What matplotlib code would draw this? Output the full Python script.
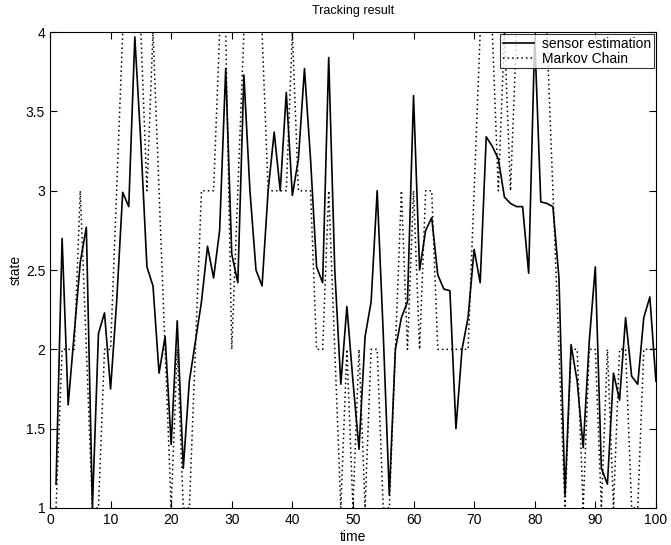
import numpy as np
import matplotlib
matplotlib.use("Agg")
import matplotlib.pyplot as plt

plt.rcParams['font.family'] = ['Liberation Sans', 'DejaVu Sans']

time = np.arange(1, 101)

sensor_estimation = [
    1.15, 2.70, 1.65, 2.10, 2.55, 2.77, 1.00, 2.10, 2.23, 1.75,
    2.30, 2.99, 2.90, 3.97, 3.30, 2.52, 2.40, 1.85, 2.08, 1.40,
    2.18, 1.25, 1.80, 2.05, 2.30, 2.65, 2.45, 2.75, 3.77, 2.60,
    2.42, 3.73, 3.00, 2.50, 2.40, 3.00, 3.37, 3.00, 3.62, 2.97,
    3.20, 3.77, 3.20, 2.52, 2.42, 3.84, 2.50, 1.78, 2.27, 1.80,
    1.37, 2.08, 2.30, 3.00, 2.10, 1.08, 2.00, 2.20, 2.30, 3.60,
    2.50, 2.75, 2.83, 2.47, 2.38, 2.37, 1.50, 2.00, 2.20, 2.63,
    2.42, 3.34, 3.28, 3.20, 2.96, 2.92, 2.90, 2.90, 2.48, 3.97,
    2.93, 2.92, 2.90, 2.45, 1.08, 2.03, 1.80, 1.38, 2.05, 2.52,
    1.25, 1.15, 1.85, 1.68, 2.20, 1.83, 1.78, 2.20, 2.33, 1.80,
]

markov_chain = [
    1, 2, 2, 2, 3, 2, 1, 1, 2, 2,
    3, 4, 4, 4, 4, 3, 4, 3, 2, 1,
    2, 1, 1, 2, 3, 3, 3, 4, 4, 2,
    3, 4, 4, 4, 4, 3, 3, 3, 3, 4,
    3, 3, 3, 2, 2, 3, 2, 1, 2, 1,
    2, 1, 2, 2, 1, 1, 2, 3, 2, 3,
    2, 3, 3, 2, 2, 2, 2, 2, 2, 3,
    4, 4, 4, 3, 4, 3, 4, 4, 4, 4,
    4, 4, 3, 2, 1, 2, 2, 1, 2, 2,
    1, 2, 1, 2, 2, 1, 1, 2, 2, 2,
]

fig = plt.figure(figsize=(6.71, 5.45), dpi=100)
ax = fig.add_axes([0.0745, 0.068, 0.903, 0.873])

ax.plot(time, sensor_estimation, color='black', linewidth=1.2, label='sensor estimation')
ax.plot(time, markov_chain, color='black', linestyle=(0, (1, 2)), linewidth=1.1,
        label='Markov Chain')

ax.set_xlim(0, 100)
ax.set_ylim(1, 4)
ax.set_xticks(np.arange(0, 101, 10))
ax.set_yticks([1, 1.5, 2, 2.5, 3, 3.5, 4])
ax.set_yticklabels(['1', '1.5', '2', '2.5', '3', '3.5', '4'])
ax.tick_params(direction='in', top=True, right=True, labelsize=10, length=5, width=0.8)

ax.set_title('Tracking result', fontsize=9, pad=13)
ax.set_xlabel('time', fontsize=10, labelpad=2)
ax.set_ylabel('state', fontsize=10, labelpad=2)

leg = ax.legend(loc='upper right', fontsize=10, frameon=True, fancybox=False,
                edgecolor='black', borderaxespad=0.15, handlelength=2.2,
                handletextpad=0.6, borderpad=0.2, labelspacing=0.05)
leg.get_frame().set_linewidth(0.8)

fig.savefig('out.png', dpi=100)
